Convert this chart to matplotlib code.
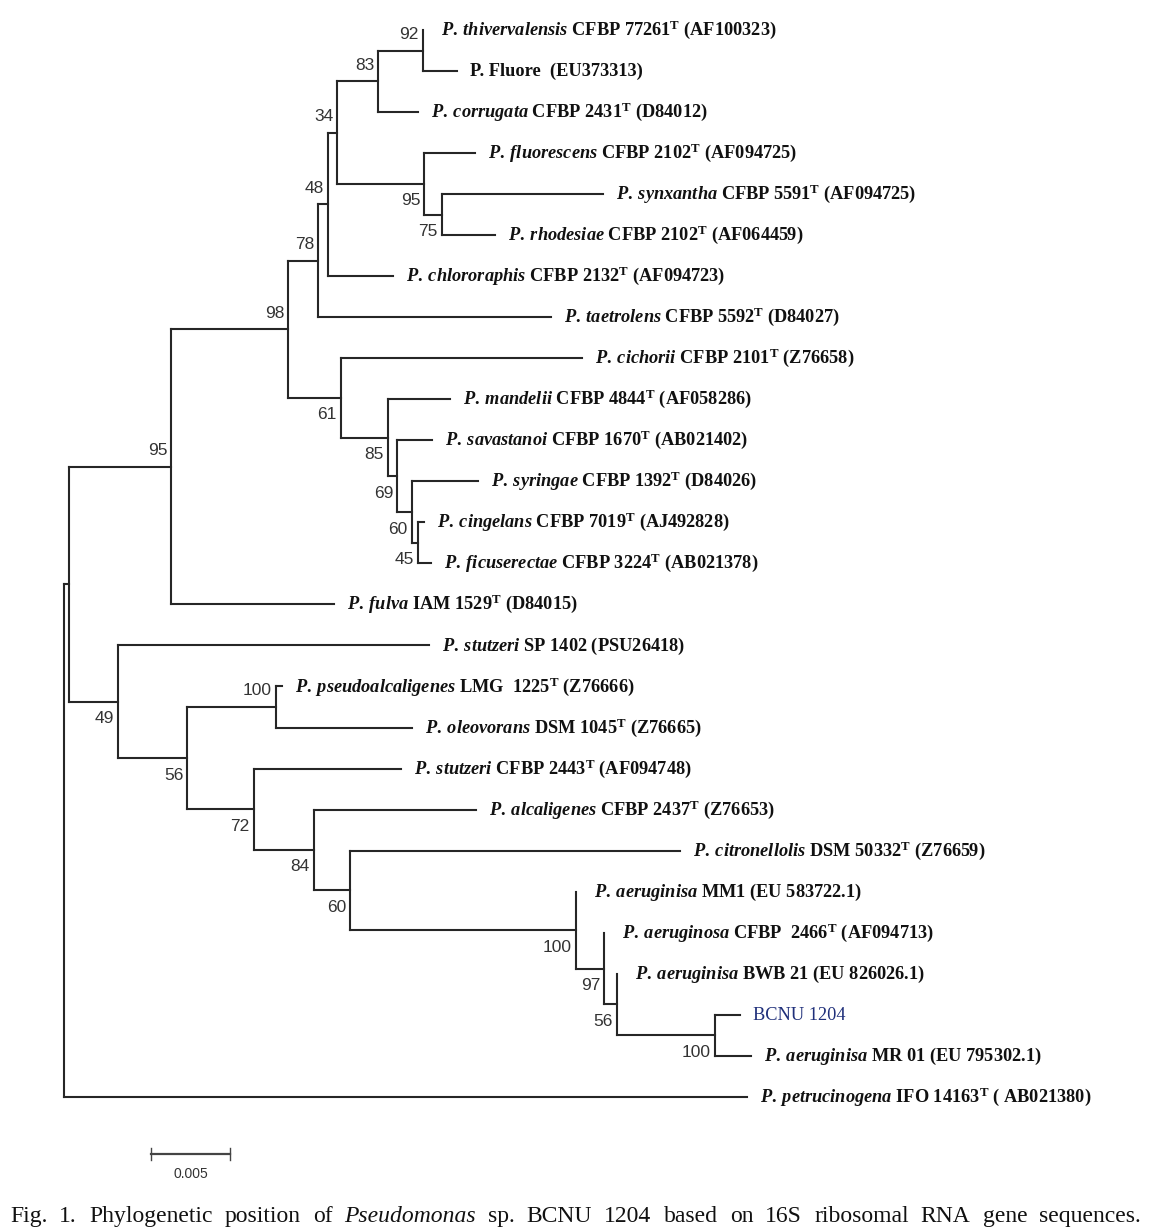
import matplotlib
matplotlib.use("Agg")
import matplotlib.pyplot as plt

plt.rcParams['mathtext.fontset'] = 'custom'
plt.rcParams['mathtext.rm'] = 'Liberation Serif:bold'
plt.rcParams['mathtext.it'] = 'Liberation Serif:italic:bold'
plt.rcParams['mathtext.bf'] = 'Liberation Serif:bold'

# ---------------- tree data (branch lengths in substitutions/site) ----------------
node_name = ["root", "A", "n95", "n98", "n78", "n48", "n34", "n83", "n92",
             "thivervalensis", "fluore", "corrugata", "n95b", "fluorescens", "n75",
             "synxantha", "rhodesiae", "chlororaphis", "taetrolens", "n61", "cichorii",
             "n85", "mandelii", "n69", "savastanoi", "n60", "syringae", "n45",
             "cingelans", "ficuserectae", "fulva", "n49", "stutzeri_sp", "n56", "n100a",
             "pseudoalcaligenes", "oleovorans", "n72", "stutzeri_cfbp", "n84",
             "alcaligenes", "n60b", "citronellolis", "n100b", "aeruginisa_mm1", "n97",
             "aeruginosa_cfbp", "n56b", "aeruginisa_bwb", "n100c", "bcnu", "aeruginisa_mr",
             "petrucinogena"]
node_parent = [None, "root", "A", "n95", "n98", "n78", "n48", "n34", "n83",
               "n92", "n92", "n83", "n34", "n95b", "n95b",
               "n75", "n75", "n48", "n78", "n98", "n61",
               "n61", "n85", "n85", "n69", "n69", "n60", "n60",
               "n45", "n45", "n95", "A", "n49", "n49", "n56",
               "n100a", "n100a", "n56", "n72", "n72",
               "n84", "n84", "n60b", "n60b", "n100b", "n100b",
               "n97", "n97", "n56b", "n56b", "n100c", "n100c",
               "root"]
branch_length = [0.0, 0.0003, 0.0065, 0.0074, 0.0019, 0.0006, 0.0006, 0.0026, 0.0028,
                 0.0, 0.0022, 0.0025, 0.0055, 0.0032, 0.0011,
                 0.0102, 0.0034, 0.0041, 0.0147, 0.0033, 0.0153,
                 0.0030, 0.0039, 0.0006, 0.0022, 0.0009, 0.0042, 0.0004,
                 0.0004, 0.0008, 0.0103, 0.0031, 0.0197, 0.0044, 0.0056,
                 0.0004, 0.0086, 0.0042, 0.0093, 0.0038,
                 0.0103, 0.0023, 0.0209, 0.0143, 0.0, 0.0018,
                 0.0, 0.0008, 0.0, 0.0062, 0.0016, 0.0023,
                 0.0432]
bootstrap = [None, None, 95, 98, 78, 48, 34, 83, 92,
             None, None, None, 95, None, 75,
             None, None, None, None, 61, None,
             85, None, 69, None, 60, None, 45,
             None, None, None, 49, None, 56, 100,
             None, None, 72, None, 84,
             None, 60, None, 100, None, 97,
             None, 56, None, 100, None, None,
             None]

# ---------------- leaf labels ----------------
leaf_key = ["thivervalensis", "fluore", "corrugata", "fluorescens", "synxantha",
            "rhodesiae", "chlororaphis", "taetrolens", "cichorii", "mandelii",
            "savastanoi", "syringae", "cingelans", "ficuserectae", "fulva",
            "stutzeri_sp", "pseudoalcaligenes", "oleovorans", "stutzeri_cfbp",
            "alcaligenes", "citronellolis", "aeruginisa_mm1", "aeruginosa_cfbp",
            "aeruginisa_bwb", "bcnu", "aeruginisa_mr", "petrucinogena"]
leaf_species = ["P. thivervalensis", "", "P. corrugata", "P. fluorescens", "P. synxantha",
                "P. rhodesiae", "P. chlororaphis", "P. taetrolens", "P. cichorii", "P. mandelii",
                "P. savastanoi", "P. syringae", "P. cingelans", "P. ficuserectae", "P. fulva",
                "P. stutzeri", "P. pseudoalcaligenes", "P. oleovorans", "P. stutzeri",
                "P. alcaligenes", "P. citronellolis", "P. aeruginisa", "P. aeruginosa",
                "P. aeruginisa", "", "P. aeruginisa", "P. petrucinogena"]
leaf_strain = ["CFBP 77261", "P. Fluore", "CFBP 2431", "CFBP 2102", "CFBP 5591",
               "CFBP 2102", "CFBP 2132", "CFBP 5592", "CFBP 2101", "CFBP 4844",
               "CFBP 1670", "CFBP 1392", "CFBP 7019", "CFBP 3224", "IAM 1529",
               "SP 1402", "LMG  1225", "DSM 1045", "CFBP 2443",
               "CFBP 2437", "DSM 50332", "MM1", "CFBP  2466",
               "BWB 21", "BCNU 1204", "MR 01", "IFO 14163"]
leaf_type = [True, False, True, True, True, True, True, True, True, True,
             True, True, True, True, True, False, True, True, True,
             True, True, False, True, False, False, False, True]
leaf_accession = ["(AF100323)", " (EU373313)", "(D84012)", "(AF094725)", "(AF094725)",
                  "(AF064459)", "(AF094723)", "(D84027)", "(Z76658)", "(AF058286)",
                  "(AB021402)", "(D84026)", "(AJ492828)", "(AB021378)", "(D84015)",
                  "(PSU26418)", "(Z76666)", "(Z76665)", "(AF094748)",
                  "(Z76653)", "(Z76659)", "(EU 583722.1)", "(AF094713)",
                  "(EU 826026.1)", "", "(EU 795302.1)", "( AB021380)"]

scale_value = 0.005
caption = "Fig. 1. Phylogenetic position of Pseudomonas sp. BCNU 1204 based on 16S ribosomal RNA gene sequences."

# ---------------- layout ----------------
W, H = 1157, 1231
fig = plt.figure(figsize=(W / 100, H / 100), dpi=100)
ax = fig.add_axes([0, 0, 1, 1])
ax.axis('off')

SX = 0.005 / 79.0        # substitutions per pixel
SY = 41.03               # pixels per leaf
ROOT_PX, TOP_PX = 64, 30
ax.set_xlim(-ROOT_PX * SX, (W - ROOT_PX) * SX)
ax.set_ylim((H - TOP_PX) / SY, -TOP_PX / SY)

def px_x(d):
    return d * SX

def px_y(d):
    return d / SY

children = {n: [] for n in node_name}
par = dict(zip(node_name, node_parent))
blen = dict(zip(node_name, branch_length))
boot = dict(zip(node_name, bootstrap))
for n, p in zip(node_name, node_parent):
    if p is not None:
        children[p].append(n)

xpos, ypos = {}, {}
leaf_index = {k: i for i, k in enumerate(leaf_key)}

def layout(n, x):
    xpos[n] = x
    if not children[n]:
        ypos[n] = leaf_index[n]
    else:
        for c in children[n]:
            layout(c, x + blen[c])
        ys = [ypos[c] for c in children[n]]
        ypos[n] = (min(ys) + max(ys)) / 2.0

layout("root", 0.0)

LC = '#262626'
LW = 1.5
for n in node_name:
    p = par[n]
    if p is not None and blen[n] > 0:
        ax.plot([xpos[p], xpos[n]], [ypos[n], ypos[n]], color=LC, lw=LW,
                solid_capstyle='projecting')
    if children[n]:
        ys = [ypos[c] for c in children[n]]
        ax.plot([xpos[n], xpos[n]], [min(ys), max(ys)], color=LC, lw=LW,
                solid_capstyle='projecting')

# bootstrap labels
above = {"n92", "n83", "n34", "n48", "n78", "n98", "n95", "n100a"}
for n in node_name:
    if boot[n] is None:
        continue
    dy = -16 if n in above else 17
    ax.text(xpos[n] - px_x(4), ypos[n] + px_y(dy), str(boot[n]), ha='right', va='center',
            fontsize=12.5, family='Liberation Sans', color='#333333')

# leaf labels
LABEL_FS = 13.2
for i, k in enumerate(leaf_key):
    zero = blen[k] == 0
    x = xpos[k] + px_x(18 if zero else 13)
    y = ypos[k] + px_y(5)
    if k == "bcnu":
        ax.text(x, y, leaf_strain[i], ha='left', va='baseline', fontsize=LABEL_FS,
                family='Liberation Serif', color='#1f2f7a')
        continue
    parts = []
    if leaf_species[i]:
        g, sp = leaf_species[i].split(" ", 1)
        parts.append(r"$\mathit{" + g + r"}\:\mathit{" + sp + "}$ ")
    s = leaf_strain[i]
    if leaf_type[i]:
        s += r"$^{\mathrm{T}}$"
    parts.append(s)
    txt = "".join(parts) + " " + leaf_accession[i]
    ax.text(x, y, txt, ha='left', va='baseline', fontsize=LABEL_FS,
            family='Liberation Serif', weight='bold', color='#111111')

# scale bar
sb_x0 = px_x(151 - ROOT_PX)
sb_y = px_y(1154 - TOP_PX)
ax.plot([sb_x0, sb_x0 + scale_value], [sb_y, sb_y], color='#444444', lw=1.6)
for xx in (sb_x0, sb_x0 + scale_value):
    ax.plot([xx, xx], [sb_y - px_y(6), sb_y + px_y(6)], color='#444444', lw=1.0)
ax.text(sb_x0 + scale_value / 2, sb_y + px_y(20), "0.005", ha='center', va='center',
        fontsize=10, family='Liberation Sans', color='#333333')

# caption, justified word by word
words = caption.split(" ")
tobjs = []
for w in words:
    style = 'italic' if w == "Pseudomonas" else 'normal'
    tobjs.append(fig.text(0, 0, w, fontsize=17, family='Liberation Serif', style=style,
                          color='#111111', va='baseline', ha='left'))
fig.canvas.draw()
r = fig.canvas.get_renderer()
widths = [t.get_window_extent(r).width for t in tobjs]
x_left, x_right = 10, 1141
gap = (x_right - x_left - sum(widths)) / (len(words) - 1)
cx = x_left
for t, w in zip(tobjs, widths):
    t.set_position((cx / W, 1 - 1222 / H))
    cx += w + gap

fig.savefig("out.png", dpi=100)
